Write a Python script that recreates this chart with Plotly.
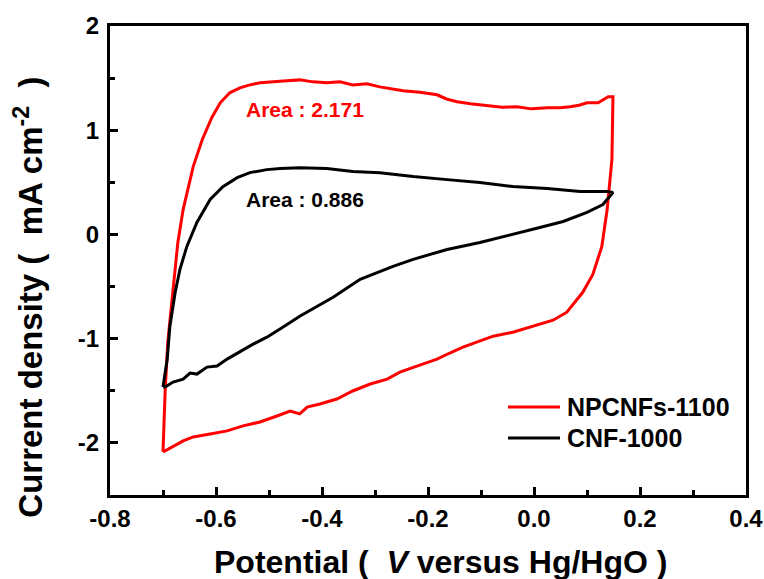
import plotly.graph_objects as go

# NPCNFs-1100 CV loop (anodic branch then cathodic branch)
npcnf_x = [-0.700, -0.696, -0.691, -0.681, -0.672, -0.662, -0.643, -0.626, -0.608, -0.592,
           -0.574, -0.555, -0.536, -0.517, -0.498, -0.466, -0.442, -0.417, -0.391, -0.366,
           -0.342, -0.315, -0.291, -0.270, -0.247, -0.215, -0.183, -0.165, -0.145, -0.120,
           -0.089, -0.060, -0.032, -0.005, 0.025, 0.049, 0.068, 0.085, 0.100, 0.121, 0.140,
           0.149, 0.147, 0.138, 0.128, 0.111, 0.092, 0.062, 0.036, -0.002, -0.040, -0.077,
           -0.102, -0.134, -0.160, -0.183, -0.221, -0.253, -0.277, -0.309, -0.342, -0.372,
           -0.404, -0.428, -0.442, -0.460, -0.485, -0.517, -0.549, -0.579, -0.611, -0.643,
           -0.662, -0.681, -0.696, -0.700]
npcnf_y = [-2.086, -1.512, -1.033, -0.555, -0.077, 0.239, 0.651, 0.909, 1.120, 1.263,
           1.359, 1.407, 1.435, 1.455, 1.464, 1.474, 1.483, 1.464, 1.455, 1.464,
           1.435, 1.445, 1.416, 1.400, 1.378, 1.365, 1.340, 1.300, 1.273, 1.255,
           1.234, 1.220, 1.225, 1.205, 1.215, 1.215, 1.225, 1.240, 1.263, 1.263, 1.321,
           1.321, 0.718, 0.239, -0.115, -0.383, -0.555, -0.746, -0.823, -0.880, -0.938, -0.976,
           -1.024, -1.081, -1.140, -1.196, -1.263, -1.321, -1.388, -1.435, -1.502, -1.579,
           -1.627, -1.656, -1.722, -1.694, -1.742, -1.799, -1.837, -1.885, -1.914, -1.943,
           -1.981, -2.038, -2.077, -2.086]

# CNF-1000 CV loop
cnf_x = [-0.700, -0.692, -0.687, -0.677, -0.668, -0.655, -0.636, -0.611, -0.587, -0.560,
         -0.536, -0.504, -0.479, -0.442, -0.391, -0.342, -0.291, -0.228, -0.164, -0.102,
         -0.040, 0.025, 0.087, 0.138,
         0.149, 0.130, 0.100, 0.055, 0.011, -0.040, -0.102, -0.164, -0.228, -0.266,
         -0.328, -0.379, -0.409, -0.442, -0.474, -0.504, -0.530, -0.555, -0.579, -0.598,
         -0.617, -0.636, -0.649, -0.662, -0.681, -0.696, -0.700]
cnf_y = [-1.464, -1.196, -0.880, -0.555, -0.335, -0.115, 0.115, 0.335, 0.459, 0.545,
         0.593, 0.622, 0.632, 0.641, 0.632, 0.603, 0.593, 0.555, 0.526, 0.498,
         0.459, 0.440, 0.411, 0.411,
         0.402, 0.287, 0.211, 0.124, 0.067, 0.000, -0.077, -0.144, -0.239, -0.306,
         -0.431, -0.603, -0.689, -0.785, -0.890, -0.986, -1.053, -1.129, -1.196, -1.263,
         -1.273, -1.340, -1.330, -1.388, -1.416, -1.464, -1.464]

series_names = ["NPCNFs-1100", "CNF-1000"]
series_colors = ["#ff0000", "#000000"]
area_labels = ["Area : 2.171", "Area : 0.886"]
area_pos = [(-0.432, 1.196), (-0.432, 0.335)]

x_ticks = [-0.8, -0.6, -0.4, -0.2, 0.0, 0.2, 0.4]
x_ticklabels = ["-0.8", "-0.6", "-0.4", "-0.2", "0.0", "0.2", "0.4"]
y_ticks = [-2, -1, 0, 1, 2]
y_ticklabels = ["-2", "-1", "0", "1", "2"]

FONT = "Liberation Sans, Arial, sans-serif"

fig = go.Figure()
for name, xs, ys, col in zip(series_names, [npcnf_x, cnf_x], [npcnf_y, cnf_y], series_colors):
    fig.add_trace(go.Scatter(x=xs, y=ys, mode="lines", name=name, showlegend=False,
                             line=dict(color=col, width=3)))

for (ax, ay), txt, col in zip(area_pos, area_labels, series_colors):
    fig.add_annotation(x=ax, y=ay, text="<b>" + txt + "</b>", showarrow=False,
                       font=dict(family=FONT, size=21, color=col),
                       xanchor="center", yanchor="middle")

# legend drawn as line samples + labels in the lower-right corner
legend_y = [0.1876, 0.1215]
for name, col, ly in zip(series_names, series_colors, legend_y):
    fig.add_shape(type="line", xref="paper", yref="paper", x0=0.6258, x1=0.7075, y0=ly, y1=ly,
                  line=dict(color=col, width=3))
    fig.add_annotation(xref="paper", yref="paper", x=0.716, y=ly, text="<b>" + name + "</b>",
                       showarrow=False, xanchor="left", yanchor="middle",
                       font=dict(family=FONT, size=25, color="black"))

fig.add_annotation(xref="paper", yref="paper", x=0.52, y=-0.142,
                   text="<b>Potential (  <i>V</i> versus Hg/HgO )</b>", showarrow=False,
                   font=dict(family=FONT, size=32, color="black"),
                   xanchor="center", yanchor="middle")
fig.add_annotation(xref="paper", yref="paper", x=-0.128, y=0.422,
                   text="<b>Current density (  mA cm<sup>-2</sup>  )</b>", showarrow=False,
                   textangle=-90,
                   font=dict(family=FONT, size=33, color="black"),
                   xanchor="center", yanchor="middle")

axis_common = dict(showline=True, linewidth=3, linecolor="black", mirror=True,
                   ticks="inside", ticklen=8, tickwidth=3, tickcolor="black",
                   showgrid=False, zeroline=False,
                   tickfont=dict(family=FONT, size=24, color="black", weight="bold"))

fig.update_xaxes(range=[-0.8, 0.4], tickvals=x_ticks, ticktext=x_ticklabels,
                 minor=dict(ticks="inside", ticklen=5, tickwidth=3, tickcolor="black", dtick=0.1, tick0=-0.8),
                 ticklabelstandoff=0, **axis_common)
fig.update_yaxes(range=[-2.5, 2], tickvals=y_ticks, ticktext=y_ticklabels,
                 minor=dict(ticks="inside", ticklen=5, tickwidth=3, tickcolor="black", dtick=0.5, tick0=0),
                 ticklabelstandoff=3, **axis_common)

fig.update_layout(width=764, height=579,
                  margin=dict(l=110, r=18, t=26, b=84, autoexpand=False),
                  plot_bgcolor="white", paper_bgcolor="white",
                  showlegend=False)

# remove the browser's default 8px body margin so the figure fills the window
fig.write_html("out.html", config={"displayModeBar": False},
               post_script="document.body.style.margin='0px';document.body.style.overflow='hidden';")
